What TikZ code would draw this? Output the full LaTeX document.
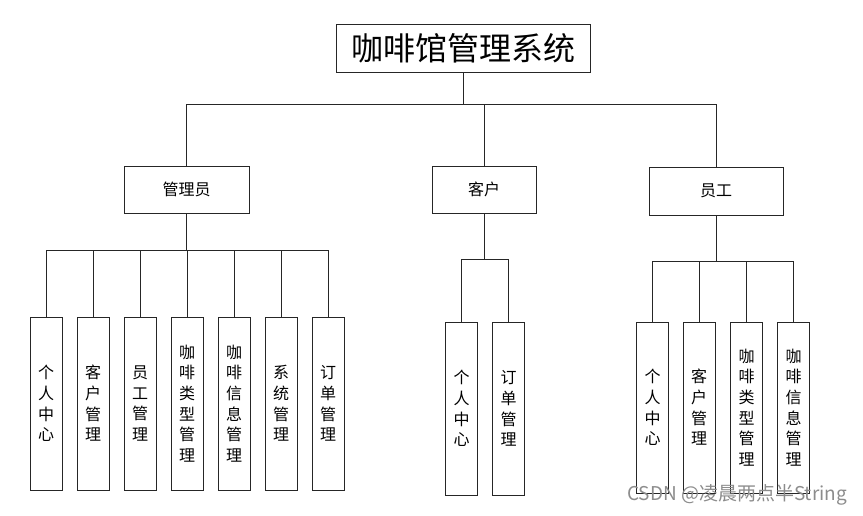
\documentclass[tikz,border=0pt]{standalone}
\usepackage{fontspec}
\newfontfamily\cjk{Noto Sans CJK SC}
\tikzset{
  every node/.style={font=\cjk\fontsize{16}{20.7}\selectfont},
  box/.style={draw=black!85, line width=1pt, inner sep=0pt, fill=white},
  leaf/.style={box, minimum width=32pt, minimum height=173pt, align=center},
  link/.style={draw=black!85, line width=1pt}
}
\begin{document}
\begin{tikzpicture}[x=1pt,y=-1pt]
      \useasboundingbox (0,0) rectangle (863,515);

      % Title and the three roles
      \node[box, minimum width=254pt, minimum height=48pt,
        font=\cjk\fontsize{32}{36}\selectfont] (title) at (463,48) {咖啡馆管理系统};
      \node[box, minimum width=125pt, minimum height=47pt] (admin) at (186.5,189.5) {管理员};
      \node[box, minimum width=104pt, minimum height=47pt] (cust) at (484,189.5) {客户};
      \node[box, minimum width=134pt, minimum height=48pt] (staff) at (716,191) {员工};

      % Bus lines
      \coordinate (topbus) at (0,104);
      \coordinate (abus) at (0,250);
      \coordinate (cbus) at (0,259);
      \coordinate (sbus) at (0,261);

      % Leaves under the administrator
      \node[leaf] (a1) at (46,403.5) {个\\人\\中\\心};
      \node[leaf] (a2) at (93,403.5) {客\\户\\管\\理};
      \node[leaf] (a3) at (140,403.5) {员\\工\\管\\理};
      \node[leaf] (a4) at (187,403.5) {咖\\啡\\类\\型\\管\\理};
      \node[leaf] (a5) at (234,403.5) {咖\\啡\\信\\息\\管\\理};
      \node[leaf] (a6) at (281,403.5) {系\\统\\管\\理};
      \node[leaf] (a7) at (328,403.5) {订\\单\\管\\理};

      % Leaves under the customer
      \node[leaf] (c1) at (461.5,408.5) {个\\人\\中\\心};
      \node[leaf] (c2) at (508.5,408.5) {订\\单\\管\\理};

      % Leaves under the staff
      \node[leaf, minimum height=171pt] (s1) at (652.5,407.5) {个\\人\\中\\心};
      \node[leaf, minimum height=171pt] (s2) at (699,407.5) {客\\户\\管\\理};
      \node[leaf, minimum height=171pt] (s3) at (746.5,407.5) {咖\\啡\\类\\型\\管\\理};
      \node[leaf, minimum height=171pt] (s4) at (793.5,407.5) {咖\\啡\\信\\息\\管\\理};

      % Connectors from the title
      \draw[link] (title.south) -- (title.south |- topbus);
      \draw[link] (admin.north) -- (admin.north |- topbus) -- (staff.north |- topbus) -- (staff.north);
      \draw[link] (cust.north) -- (cust.north |- topbus);

      % Connectors to the leaves
      \draw[link] (admin.south) -- (admin.south |- abus);
      \draw[link] (a1.north |- abus) -- (a7.north |- abus);
      \foreach \n in {a1,a2,a3,a4,a5,a6,a7}
        \draw[link] (\n.north) -- (\n.north |- abus);

      \draw[link] (cust.south) -- (cust.south |- cbus);
      \draw[link] (c1.north |- cbus) -- (c2.north |- cbus);
      \foreach \n in {c1,c2}
        \draw[link] (\n.north) -- (\n.north |- cbus);

      \draw[link] (staff.south) -- (staff.south |- sbus);
      \draw[link] (s1.north |- sbus) -- (s4.north |- sbus);
      \foreach \n in {s1,s2,s3,s4}
        \draw[link] (\n.north) -- (\n.north |- sbus);

      % Watermark
      \node[text=black!45, font=\cjk\fontsize{19}{22}\selectfont] (mark) at (737,495) {CSDN @凌晨两点半String};
    \end{tikzpicture}
\end{document}
